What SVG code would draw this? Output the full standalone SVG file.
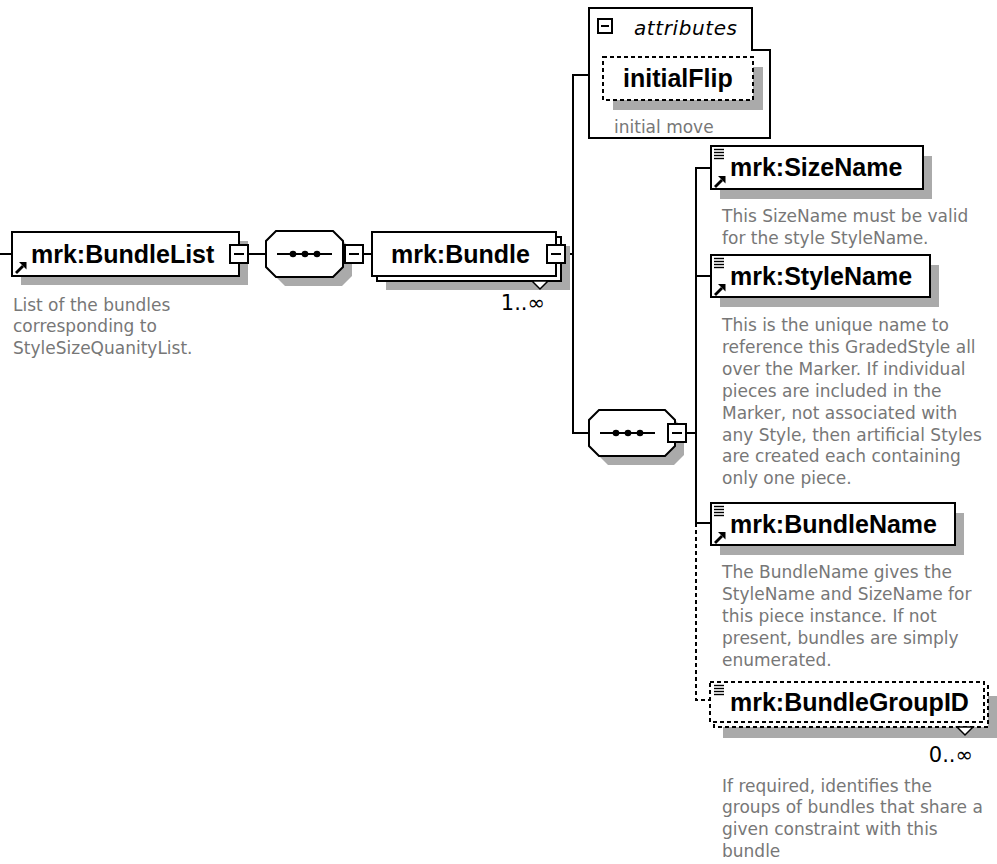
<svg xmlns="http://www.w3.org/2000/svg" xmlns:xlink="http://www.w3.org/1999/xlink" width="997" height="864" viewBox="0 0 997 864">
  <style>
    .box { fill: #fff; stroke: #000; stroke-width: 2; }
    .opt { fill: #fff; stroke: #000; stroke-width: 2; stroke-dasharray: 4 3; }
    .shadow { fill: #aaa; stroke: none; }
    .name { font-family: "Liberation Sans", Arial, sans-serif; font-weight: bold; font-size: 25px; fill: #000; }
    .doc { font-family: "DejaVu Sans", Verdana, sans-serif; font-size: 17px; fill: #777; }
    .occ { font-family: "DejaVu Sans", Verdana, sans-serif; font-size: 21px; fill: #000; }
    .wire { fill: none; stroke: #000; stroke-width: 2; }
    .wire-opt { fill: none; stroke: #000; stroke-width: 2; stroke-dasharray: 4 3; }
  </style>
  <defs>
    <!-- collapse button: square with a minus -->
    <g id="btn">
      <rect x="0" y="0" width="18" height="18" fill="#fff" stroke="#000" stroke-width="2"/>
      <line x1="4" y1="9" x2="14" y2="9" stroke="#000" stroke-width="2"/>
    </g>
    <!-- global reference arrow -->
    <g id="refArrow">
      <line x1="2" y1="12" x2="9" y2="5" stroke="#000" stroke-width="2.8"/>
      <path d="M5 1 L12.5 1 L12.5 8.5 Z" fill="#000"/>
    </g>
    <!-- simple-content marker -->
    <g id="listIcon" stroke="#000" stroke-width="1.4">
      <line x1="0" y1="0.5" x2="10" y2="0.5"/>
      <line x1="0" y1="3.5" x2="10" y2="3.5"/>
      <line x1="0" y1="6.5" x2="10" y2="6.5"/>
      <line x1="0" y1="9.5" x2="10" y2="9.5"/>
    </g>
  </defs>

  <!-- connectors -->
  <g id="connectors">
    <path class="wire" d="M0 254 H12"/>
    <path class="wire" d="M248 254 H266"/>
    <path class="wire" d="M363 254 H372"/>
    <path class="wire" d="M565 254 H573"/>
    <path class="wire" d="M589 75 H573 V433 H589"/>
    <path class="wire" d="M686 433 H696"/>
    <path class="wire" d="M711 168 H696 V523 H711"/>
    <path class="wire" d="M696 276 H711"/>
    <path class="wire-opt" d="M696 523 V700 H710"/>
  </g>

  <!-- root element -->
  <g id="node-bundlelist">
    <rect class="shadow" x="21" y="241" width="227" height="44"/>
    <rect class="box" x="12" y="232" width="227" height="44"/>
    <text class="name" x="31" y="263">mrk:BundleList</text>
    <use xlink:href="#refArrow" x="14" y="261"/>
    <use xlink:href="#btn" x="230" y="245"/>
    <text class="doc"><tspan x="13" y="311">List of the bundles</tspan><tspan x="13" y="332">corresponding to</tspan><tspan x="13" y="354">StyleSizeQuanityList.</tspan></text>
  </g>

  <!-- outer sequence -->
  <g id="node-seq1">
    <polygon class="shadow" points="285,240 342,240 352,250 352,276 342,286 285,286 275,276 275,250"/>
    <polygon class="box" points="276,231 333,231 343,241 343,267 333,277 276,277 266,267 266,241"/>
    <line x1="277" y1="254" x2="332" y2="254" stroke="#000" stroke-width="2"/>
    <circle cx="293" cy="254" r="3.3"/>
    <circle cx="305" cy="254" r="3.3"/>
    <circle cx="317" cy="254" r="3.3"/>
    <use xlink:href="#btn" x="345" y="245"/>
  </g>

  <!-- repeated Bundle element -->
  <g id="node-bundle">
    <rect class="shadow" x="386" y="246" width="184" height="44"/>
    <rect class="box" x="377" y="237" width="184" height="44"/>
    <rect class="box" x="372" y="232" width="184" height="44"/>
    <text class="name" x="391" y="263">mrk:Bundle</text>
    <use xlink:href="#btn" x="547" y="245"/>
    <polygon points="532,281 540,289 548,281" fill="#fff" stroke="#000" stroke-width="1.5"/>
    <text class="occ" x="545" y="310" text-anchor="end">1..∞</text>
  </g>

  <!-- attribute group -->
  <g id="node-attributes">
    <polygon class="box" points="589,8 752,8 752,50 770,50 770,138 589,138"/>
    <rect x="598" y="19" width="14" height="14" fill="#fff" stroke="#000" stroke-width="2"/>
    <line x1="601" y1="26" x2="609" y2="26" stroke="#000" stroke-width="2"/>
    <text x="634" y="35" font-family="'DejaVu Sans', Verdana, sans-serif" font-style="italic" font-size="20" textLength="103" lengthAdjust="spacing">attributes</text>
  </g>
  <g id="node-initialflip">
    <rect class="shadow" x="613" y="67" width="150" height="43"/>
    <rect class="opt" x="603" y="57" width="150" height="43"/>
    <text class="name" x="623" y="87">initialFlip</text>
    <text class="doc" x="614" y="133">initial move</text>
  </g>

  <!-- inner sequence -->
  <g id="node-seq2">
    <polygon class="shadow" points="608,419 674,419 684,429 684,455 674,465 608,465 598,455 598,429"/>
    <polygon class="box" points="599,410 665,410 675,420 675,446 665,456 599,456 589,446 589,420"/>
    <line x1="600" y1="433" x2="655" y2="433" stroke="#000" stroke-width="2"/>
    <circle cx="616" cy="433" r="3.3"/>
    <circle cx="628" cy="433" r="3.3"/>
    <circle cx="640" cy="433" r="3.3"/>
    <use xlink:href="#btn" x="668" y="424"/>
  </g>

  <g id="node-sizename">
    <rect class="shadow" x="720" y="156" width="212" height="43"/>
    <rect class="box" x="711" y="146" width="212" height="43"/>
    <use xlink:href="#listIcon" x="714" y="149"/>
    <use xlink:href="#refArrow" x="713" y="175"/>
    <text class="name" x="730" y="176">mrk:SizeName</text>
    <text class="doc"><tspan x="722" y="222">This SizeName must be valid</tspan><tspan x="722" y="244">for the style StyleName.</tspan></text>
  </g>

  <g id="node-stylename">
    <rect class="shadow" x="720" y="265" width="219" height="42"/>
    <rect class="box" x="711" y="255" width="219" height="42"/>
    <use xlink:href="#listIcon" x="714" y="258"/>
    <use xlink:href="#refArrow" x="713" y="283"/>
    <text class="name" x="730" y="285">mrk:StyleName</text>
    <text class="doc"><tspan x="722" y="331">This is the unique name to</tspan><tspan x="722" y="353">reference this GradedStyle all</tspan><tspan x="722" y="375">over the Marker. If individual</tspan><tspan x="722" y="397">pieces are included in the</tspan><tspan x="722" y="419">Marker, not associated with</tspan><tspan x="722" y="441">any Style, then artificial Styles</tspan><tspan x="722" y="462">are created each containing</tspan><tspan x="722" y="484">only one piece.</tspan></text>
  </g>

  <g id="node-bundlename">
    <rect class="shadow" x="720" y="513" width="244" height="42"/>
    <rect class="box" x="711" y="503" width="244" height="42"/>
    <use xlink:href="#listIcon" x="714" y="506"/>
    <use xlink:href="#refArrow" x="713" y="531"/>
    <text class="name" x="730" y="533">mrk:BundleName</text>
    <text class="doc"><tspan x="722" y="578">The BundleName gives the</tspan><tspan x="722" y="600">StyleName and SizeName for</tspan><tspan x="722" y="622">this piece instance. If not</tspan><tspan x="722" y="644">present, bundles are simply</tspan><tspan x="722" y="666">enumerated.</tspan></text>
  </g>

  <g id="node-bundlegroupid">
    <rect class="shadow" x="723" y="696" width="274" height="42"/>
    <rect class="opt" x="714" y="686" width="274" height="41"/>
    <rect class="opt" x="710" y="682" width="274" height="40"/>
    <use xlink:href="#listIcon" x="714" y="685"/>
    <text class="name" x="730" y="711">mrk:BundleGroupID</text>
    <polygon points="957,727 965,735 973,727" fill="#fff" stroke="#000" stroke-width="1.5"/>
    <text class="occ" x="973" y="762" text-anchor="end">0..∞</text>
    <text class="doc"><tspan x="722" y="792">If required, identifies the</tspan><tspan x="722" y="813">groups of bundles that share a</tspan><tspan x="722" y="835">given constraint with this</tspan><tspan x="722" y="857">bundle</tspan></text>
  </g>
</svg>
